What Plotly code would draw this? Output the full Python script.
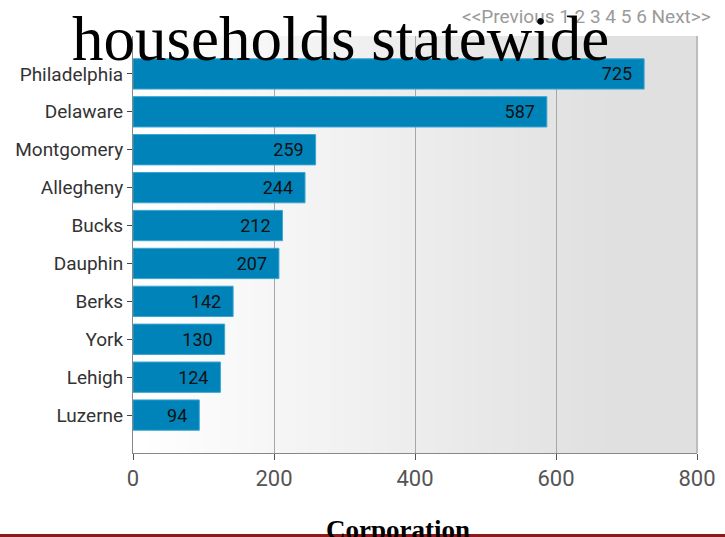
import plotly.graph_objects as go

counties = ["Philadelphia", "Delaware", "Montgomery", "Allegheny", "Bucks",
            "Dauphin", "Berks", "York", "Lehigh", "Luzerne"]
households = [725, 587, 259, 244, 212, 207, 142, 130, 124, 94]
x_ticks = [0, 200, 400, 600, 800]

W, H = 725, 537
L, R, T, B = 133, 28, 36, 84
SANS = "Liberation Sans Narrow, Roboto, Liberation Sans, Arial"
SERIF = "Liberation Serif, DejaVu Serif, serif"

fig = go.Figure()

fig.add_trace(go.Bar(
    y=counties[::-1], x=households[::-1], orientation="h",
    marker=dict(color="#0083B9", line=dict(color="#3aa6d0", width=1)),
    width=0.8,
    text=[f"{v}\u00a0\u00a0" for v in households[::-1]],
    textposition="inside", insidetextanchor="end",
    textfont=dict(family=SANS, size=18, color="#111"),
    cliponaxis=False,
))

# horizontal gradient for the plotting area
shapes = []
n = 80
for i in range(n):
    t = i / (n - 1)
    g = round(255 - (255 - 224) * min(1.0, t / 0.85))
    shapes.append(dict(type="rect", xref="x domain", yref="y domain",
                       x0=i / n, x1=(i + 1) / n + 0.002, y0=0, y1=1,
                       fillcolor=f"rgb({g},{g},{g})", line=dict(width=0), layer="below"))
# right-hand border of the plotting area
shapes.append(dict(type="line", xref="x domain", yref="y domain", x0=1, x1=1, y0=0, y1=1,
                   line=dict(color="#bdbdbd", width=2)))
# dark red rule along the bottom of the page
ph = H - T - B
shapes.append(dict(type="rect", xref="paper", yref="paper", x0=-0.3, x1=1.1,
                   y0=-(B + 2) / ph, y1=-(B - 3) / ph,
                   fillcolor="#8b1a1a", line=dict(width=0), layer="above"))

fig.update_layout(
    width=W, height=H,
    margin=dict(l=L, r=R, t=T, b=B, autoexpand=False),
    paper_bgcolor="white", plot_bgcolor="white",
    showlegend=False, shapes=shapes,
    xaxis=dict(range=[0, 800], tickvals=x_ticks, ticks="outside", ticklen=6,
               tickcolor="#555", showline=True, linecolor="#888", linewidth=1,
               showgrid=True, gridcolor="#a8a8a8", gridwidth=1, zeroline=False,
               automargin=False,
               tickfont=dict(family=SANS, size=22, color="#555")),
    yaxis=dict(range=[-1, 10], ticks="outside", ticklen=5, tickcolor="#444",
               showline=True, linecolor="#888", linewidth=1, showgrid=False,
               automargin=False,
               tickfont=dict(family=SANS, size=19, color="#333")),
    annotations=[
        dict(text="<<Previous 1 2 3 4 5 6 Next>>", xref="paper", yref="paper",
             x=(713 - L) / (W - L - R), y=1 + (T - 16) / ph,
             xanchor="right", yanchor="middle", showarrow=False,
             font=dict(family=SANS, size=19, color="#9a9a9a")),
        dict(text="households statewide", xref="paper", yref="paper",
             x=(340 - L) / (W - L - R), y=1 + (T - 39) / ph,
             xanchor="center", yanchor="middle", showarrow=False,
             font=dict(family=SERIF, size=63, color="black")),
        dict(text="<b>Corporation</b>", xref="paper", yref="paper",
             x=(398 - L) / (W - L - R), y=-(530 - (H - B)) / ph,
             xanchor="center", yanchor="middle", showarrow=False,
             font=dict(family=SERIF, size=27, color="black")),
    ],
)

fig.write_html("out.html")
